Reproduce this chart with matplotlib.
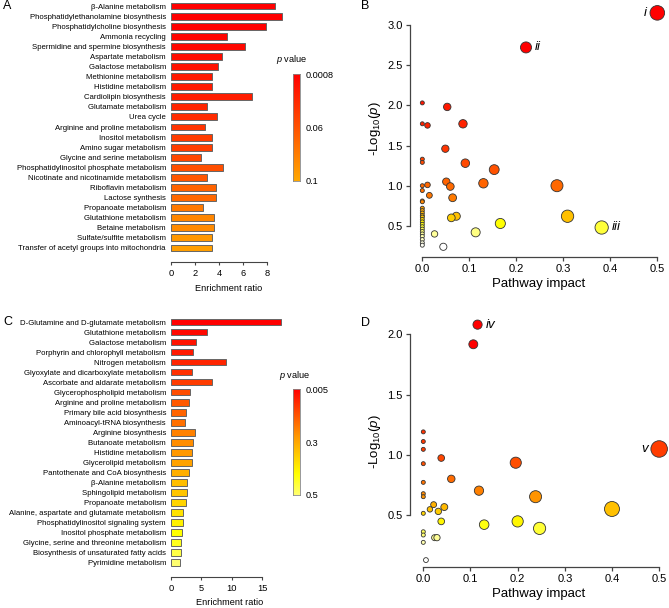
import numpy as np
import matplotlib
matplotlib.use('Agg')
import matplotlib.pyplot as plt
from matplotlib.colors import LinearSegmentedColormap

plt.rcParams['font.family'] = ['Liberation Sans', 'DejaVu Sans']
plt.rcParams['mathtext.fontset'] = 'custom'
plt.rcParams['mathtext.rm'] = 'Liberation Sans'
plt.rcParams['mathtext.it'] = 'Liberation Sans:italic'
plt.rcParams['mathtext.bf'] = 'Liberation Sans:bold'

# ---------------- data ----------------
A_pathways = ["β-Alanine metabolism", "Phosphatidylethanolamine biosynthesis",
              "Phosphatidylcholine biosynthesis", "Ammonia recycling",
              "Spermidine and spermine biosynthesis", "Aspartate metabolism",
              "Galactose metabolism", "Methionine metabolism", "Histidine metabolism",
              "Cardiolipin biosynthesis", "Glutamate metabolism", "Urea cycle",
              "Arginine and proline metabolism", "Inositol metabolism",
              "Amino sugar metabolism", "Glycine and serine metabolism",
              "Phosphatidylinositol phosphate metabolism",
              "Nicotinate and nicotinamide metabolism", "Riboflavin metabolism",
              "Lactose synthesis", "Propanoate metabolism", "Glutathione metabolism",
              "Betaine metabolism", "Sulfate/sulfite metabolism",
              "Transfer of acetyl groups into mitochondria"]
A_ratio = [8.69, 9.25, 7.92, 4.64, 6.17, 4.22, 3.89, 3.44, 3.44, 6.72, 3.03, 3.83,
           2.81, 3.39, 3.39, 2.53, 4.36, 3.03, 3.72, 3.72, 2.67, 3.56, 3.56, 3.39, 3.39]
A_p = [0.0008, 0.0009, 0.0012, 0.004, 0.006, 0.010, 0.014, 0.018, 0.020, 0.022,
       0.028, 0.032, 0.038, 0.044, 0.046, 0.052, 0.058, 0.062, 0.068, 0.070,
       0.078, 0.084, 0.086, 0.092, 0.095]
A_cbar_ticks = [0.0008, 0.06, 0.1]
A_cbar_labels = ["0.0008", "0.06", "0.1"]

C_pathways = ["D-Glutamine and D-glutamate metabolism", "Glutathione metabolism",
              "Galactose metabolism", "Porphyrin and chlorophyll metabolism",
              "Nitrogen metabolism", "Glyoxylate and dicarboxylate metabolism",
              "Ascorbate and aldarate metabolism", "Glycerophospholipid metabolism",
              "Arginine and proline metabolism", "Primary bile acid biosynthesis",
              "Aminoacyl-tRNA biosynthesis", "Arginine biosynthesis",
              "Butanoate metabolism", "Histidine metabolism", "Glycerolipid metabolism",
              "Pantothenate and CoA biosynthesis", "β-Alanine metabolism",
              "Sphingolipid metabolism", "Propanoate metabolism",
              "Alanine, aspartate and glutamate metabolism",
              "Phosphatidylinositol signaling system", "Inositol phosphate metabolism",
              "Glycine, serine and threonine metabolism",
              "Biosynthesis of unsaturated fatty acids", "Pyrimidine metabolism"]
C_ratio = [18.2, 5.87, 4.06, 3.68, 9.12, 3.46, 6.81, 3.07, 2.97, 2.41, 2.25, 3.96,
           3.68, 3.46, 3.46, 2.90, 2.64, 2.64, 2.41, 1.98, 1.98, 1.81, 1.70, 1.59, 1.48]
C_p = [0.005, 0.02, 0.04, 0.05, 0.07, 0.09, 0.11, 0.14, 0.16, 0.18, 0.20, 0.23,
       0.25, 0.27, 0.29, 0.31, 0.33, 0.34, 0.36, 0.38, 0.40, 0.42, 0.44, 0.47, 0.50]
C_cbar_ticks = [0.005, 0.3, 0.5]
C_cbar_labels = ["0.005", "0.3", "0.5"]

B_impact = [0.5, 0.2206, 0.0, 0.053, 0.0, 0.011, 0.0865, 0.049, 0.0, 0.0, 0.0915,
            0.153, 0.051, 0.130, 0.0596, 0.0, 0.011, 0.0, 0.015, 0.0645, 0.2865,
            0.0, 0.0, 0.0, 0.0, 0.0, 0.0, 0.0, 0.0, 0.0, 0.0, 0.0, 0.0, 0.0, 0.0,
            0.0, 0.0, 0.0, 0.0,
            0.309, 0.0723, 0.0617, 0.166, 0.3816, 0.1135, 0.026, 0.0447]
B_logp = [3.15, 2.72, 2.03, 1.98, 1.77, 1.75, 1.77, 1.46, 1.33, 1.29, 1.28,
          1.20, 1.05, 1.03, 0.99, 1.00, 1.01, 0.94, 0.88, 0.85, 1.00,
          0.81, 0.80, 0.72, 0.69, 0.66, 0.63, 0.61, 0.58, 0.55, 0.52, 0.49, 0.46,
          0.43, 0.40, 0.37, 0.33, 0.29, 0.26,
          0.62, 0.62, 0.60, 0.53, 0.48, 0.42, 0.40, 0.24]
B_labels = {0: "i", 1: "ii", 43: "iii"}

D_impact = [0.115, 0.106, 0.0, 0.0, 0.0, 0.0, 0.0, 0.0, 0.0, 0.0, 0.0, 0.0, 0.0,
            0.038, 0.196, 0.5, 0.0593, 0.118, 0.238, 0.0219, 0.014, 0.0445, 0.0318,
            0.40, 0.038, 0.129, 0.20, 0.2465, 0.024, 0.029, 0.0056]
D_logp = [2.08, 1.917, 1.19, 1.11, 1.045, 0.926, 0.771, 0.677, 0.652, 0.514, 0.361,
          0.334, 0.273, 0.973, 0.934, 1.048, 0.80, 0.702, 0.652, 0.586, 0.547,
          0.566, 0.530, 0.55, 0.447, 0.42, 0.447, 0.389, 0.312, 0.312, 0.126]
D_labels = {0: "iv", 15: "v"}

# ---------------- styling ----------------
W, H = 669, 608
fig = plt.figure(figsize=(W / 100, H / 100), dpi=100)
AXC = '#444444'


def px_axes(left, top, width, height):
    return fig.add_axes([left / W, 1 - (top + height) / H, width / W, height / H])


cmapA = LinearSegmentedColormap.from_list('a', ['#FF0000', '#FF5200', '#FFA800'])
cmapC = LinearSegmentedColormap.from_list(
    'c', [(0, '#FF0000'), (0.45, '#FF9900'), (0.8, '#FFFF00'), (1, '#FFFF70')])
heat = LinearSegmentedColormap.from_list(
    'heat', [(0, '#FFFFFF'), (0.15, '#FFFF99'), (0.3, '#FFFF00'), (0.45, '#FFC000'),
             (0.6, '#FF8000'), (0.8, '#FF4000'), (1, '#FF0000')])


def bar_panel(rect, names, ratios, pvals, cmap, pticks, xlim, xbounds, xticks, off_pt):
    ax = px_axes(*rect)
    frac = np.interp(pvals, pticks, [0, 0.5, 1])
    y = np.arange(len(names))
    ax.barh(y, ratios, height=0.68, color=cmap(frac), edgecolor='#666666',
            linewidth=0.7)
    ax.set_ylim(len(names) - 0.4, -0.6)
    ax.set_xlim(*xlim)
    ax.set_yticks(y)
    ax.set_yticklabels(names, fontsize=5.6)
    ax.tick_params(axis='y', length=0, pad=3.6)
    for s in ['top', 'right', 'left']:
        ax.spines[s].set_visible(False)
    ax.spines['bottom'].set_position(('outward', off_pt))
    ax.spines['bottom'].set_bounds(*xbounds)
    ax.spines['bottom'].set_color(AXC)
    ax.spines['bottom'].set_linewidth(0.8)
    ax.set_xticks(xticks)
    ax.tick_params(axis='x', length=2.5, width=0.8, labelsize=6.7, pad=2.5, color=AXC)
    ax.set_xlabel('Enrichment ratio', fontsize=6.6, labelpad=4)
    return ax


def cbar(rect, cmap, labels, title_xy):
    cax = px_axes(*rect)
    grad = np.linspace(0, 1, 256).reshape(-1, 1)
    cax.imshow(grad, aspect='auto', cmap=cmap, extent=[0, 1, 1, 0])
    cax.set_xticks([])
    cax.yaxis.tick_right()
    cax.set_yticks([0, 0.5, 1])
    cax.set_yticklabels(labels, fontsize=6.6)
    cax.tick_params(axis='y', length=0, pad=4)
    for s in cax.spines.values():
        s.set_color('#888888')
        s.set_linewidth(0.6)
    fig.text(title_xy[0] / W, 1 - title_xy[1] / H, r'$\it{p}$ value', fontsize=6.6,
             ha='center', va='center')


def scatter_panel(rect, xlim, ylim, xs, ys, ypts, fpts, rcoef, rexp, ybounds,
                  yticks, labels, label_off):
    ax = px_axes(*rect)
    xs = np.asarray(xs)
    ys = np.asarray(ys)
    cols = heat(np.interp(ys, ypts, fpts))
    r_px = 2.0 + rcoef * xs ** rexp
    sizes = (2 * r_px * 0.72) ** 2
    ax.scatter(xs, ys, s=sizes, c=cols, edgecolors='#333333', linewidths=0.6,
               clip_on=False, zorder=3)
    ax.set_xlim(*xlim)
    ax.set_ylim(*ylim)
    for s in ['top', 'right']:
        ax.spines[s].set_visible(False)
    for s in ['left', 'bottom']:
        ax.spines[s].set_color(AXC)
        ax.spines[s].set_linewidth(0.9)
    ax.spines['left'].set_bounds(*ybounds)
    ax.spines['bottom'].set_bounds(0, 0.5)
    ax.set_xticks([0, 0.1, 0.2, 0.3, 0.4, 0.5])
    ax.set_yticks(yticks)
    ax.xaxis.set_major_formatter(matplotlib.ticker.FormatStrFormatter('%.1f'))
    ax.yaxis.set_major_formatter(matplotlib.ticker.FormatStrFormatter('%.1f'))
    ax.tick_params(length=2.8, width=0.9, labelsize=8, pad=2.5, color=AXC)
    ax.set_xlabel('Pathway impact', fontsize=9.5, labelpad=3)
    ax.set_ylabel(r'-Log$_{10}$($\it{p}$)', fontsize=9.5, labelpad=3)
    for idx, txt in labels.items():
        dx = label_off[idx]
        ax.annotate(txt, (xs[idx], ys[idx]), xytext=(dx, 0), textcoords='offset points',
                    ha='left' if dx > 0 else 'right', va='center', fontsize=9.5,
                    style='italic')
    return ax


# Panel A
bar_panel((171, 0, 115.2, 254), A_pathways, A_ratio, A_p, cmapA, A_cbar_ticks,
          (0, 9.6), (0, 8), [0, 2, 4, 6, 8], 5.8)
cbar((293, 74, 7, 107), cmapA, A_cbar_labels, (292, 60))

# Panel C
bar_panel((171, 316, 118, 252.3), C_pathways, C_ratio, C_p, cmapC, C_cbar_ticks,
          (0, 19.45), (0, 15), [0, 5, 10, 15], 6.0)
cbar((293, 389, 7, 106), cmapC, C_cbar_labels, (295, 375))

# Panel B
scatter_panel((410.1, 0, 256.6, 256.6), (-0.026, 0.52), (0.118, 3.31), B_impact, B_logp,
              [0.24, 0.40, 0.53, 0.62, 0.85, 1.5, 2.5], [0, 0.15, 0.3, 0.45, 0.62, 0.85, 1.0],
              7.5, 0.5, (0.5, 3.0), [0.5, 1.0, 1.5, 2.0, 2.5, 3.0], B_labels,
              {0: -7.5, 1: 6.0, 43: 7.0})

# Panel D
scatter_panel((410.1, 316.2, 256.6, 250.5), (-0.028, 0.516), (0.071, 2.15), D_impact,
              D_logp, [0.12, 0.31, 0.43, 0.55, 0.70, 1.0, 1.9],
              [0, 0.15, 0.3, 0.45, 0.6, 0.8, 1.0], 9.5, 0.6, (0.5, 2.0),
              [0.5, 1.0, 1.5, 2.0], D_labels, {0: 6.0, 15: -8.0})

# panel letters
for letter, (x, y) in {"A": (3, 6), "B": (361, 6), "C": (3, 322), "D": (361, 323)}.items():
    fig.text(x / W, 1 - y / H, letter, fontsize=9, ha='left', va='center')

fig.savefig('out.png', dpi=100)
